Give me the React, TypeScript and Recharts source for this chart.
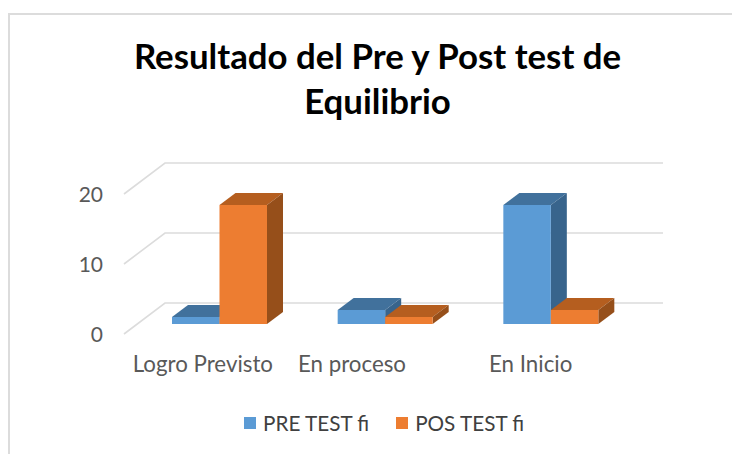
import { Bar, BarChart, CartesianGrid, Legend, XAxis, YAxis } from "recharts";

const categories = ["Logro Previsto", "En proceso", "En Inicio"];
const preTest = [1, 2, 17];
const posTest = [17, 1, 2];
const yTicks = [0, 10, 20];

const rows = categories.map((name, i) => ({ name, pre: preTest[i], pos: posTest[i] }));

const FONT = "Lato, 'Open Sans', sans-serif";
const DEPTH_X = 16;
const DEPTH_Y = 12;

// fake 3D box: front rect from recharts, top and side faces offset by the depth
function Box3D({ x, y, width, height, front, top, side }: any) {
  return (
    <g>
      <polygon
        points={`${x},${y} ${x + DEPTH_X},${y - DEPTH_Y} ${x + width + DEPTH_X},${y - DEPTH_Y} ${x + width},${y}`}
        fill={top}
      />
      <polygon
        points={`${x + width},${y} ${x + width + DEPTH_X},${y - DEPTH_Y} ${x + width + DEPTH_X},${y + height - DEPTH_Y} ${x + width},${y + height}`}
        fill={side}
      />
      <rect x={x} y={y} width={width} height={height} fill={front} />
    </g>
  );
}

// gridline bent along the side wall, then running along the back wall
function WallLine({ x1, x2, y1 }: any) {
  return (
    <path
      d={`M${x1 - 13} ${y1 + 10} L${x1 + 28} ${y1 - 21} L${x2 + 29} ${y1 - 21}`}
      fill="none"
      stroke="#dcdcdc"
      strokeWidth={1.6}
    />
  );
}

// the labels sit left of their groups in the original
const labelShift: Record<string, number> = { "Logro Previsto": -17, "En proceso": -33.5, "En Inicio": -20.5 };

function CategoryTick({ x, y, payload }: any) {
  return (
    <text x={x + labelShift[payload.value]} y={y} dy={48} textAnchor="middle" fill="#595959" fontSize={22.3} fontFamily={FONT}>
      {payload.value}
    </text>
  );
}

function ValueTick({ x, y, payload }: any) {
  return (
    <text x={x} y={y} dy={18} textAnchor="end" fill="#595959" fontSize={21} fontFamily={FONT}>
      {payload.value}
    </text>
  );
}

function LegendRow({ payload }: any) {
  return (
    <div style={{ display: "flex", alignItems: "center", fontFamily: FONT, fontSize: 20.7, color: "#404040", lineHeight: "26px" }}>
      {(payload || []).map((entry: any, i: number) => (
        <span key={entry.value} style={{ display: "flex", alignItems: "center", marginRight: i === 0 ? 27 : 0 }}>
          <span style={{ width: 12, height: 12, background: entry.color, marginRight: 7 }} />
          {entry.value}
        </span>
      ))}
    </div>
  );
}

export default function App() {
  return (
    <div
      style={{
        position: "absolute",
        left: 0,
        top: 0,
        width: 732,
        height: 454,
        background: "#fff",
        overflow: "hidden",
      }}
    >
      <div style={{ position: "absolute", left: 8, top: 13, width: 724, height: 441, borderTop: "2px solid #dcdcdc", borderLeft: "2px solid #dcdcdc" }} />
      <div
        style={{
          position: "absolute",
          left: 0,
          width: 755,
          top: 33,
          textAlign: "center",
          fontFamily: FONT,
          fontWeight: 700,
          fontSize: 34.8,
          lineHeight: "45px",
          color: "#000",
        }}
      >
        Resultado del Pre y Post test de
        <br />
        Equilibrio
      </div>
      <BarChart
        width={732}
        height={454}
        data={rows}
        barSize={47.5}
        barGap={0}
        margin={{ top: 184, right: 98, bottom: 90, left: 77 }}
        style={{ position: "absolute", left: 0, top: 0 }}
      >
        <CartesianGrid vertical={false} horizontal={(p: any) => <WallLine key={p.key} {...p} />} />
        <XAxis dataKey="name" axisLine={false} tickLine={false} tick={<CategoryTick />} height={40} tickSize={0} tickMargin={0} interval={0} />
        <YAxis
          domain={[0, 20]}
          ticks={yTicks}
          axisLine={false}
          tickLine={false}
          tick={<ValueTick />}
          tickSize={0}
          tickMargin={34}
          width={60}
        />
        <Bar
          dataKey="pre"
          name="PRE TEST fi"
          fill="#5b9bd5"
          isAnimationActive={false}
          shape={(p: any) => <Box3D {...p} front="#5b9bd5" top="#41719c" side="#38648c" />}
        />
        <Bar
          dataKey="pos"
          name="POS TEST fi"
          fill="#ed7d31"
          isAnimationActive={false}
          shape={(p: any) => <Box3D {...p} front="#ed7d31" top="#b55e1f" side="#964f1a" />}
        />
        <Legend
          layout="horizontal"
          align="center"
          verticalAlign="middle"
          itemSorter={null}
          content={<LegendRow />}
          wrapperStyle={{ left: 244, top: 410, width: 320 }}
        />
      </BarChart>
    </div>
  );
}
